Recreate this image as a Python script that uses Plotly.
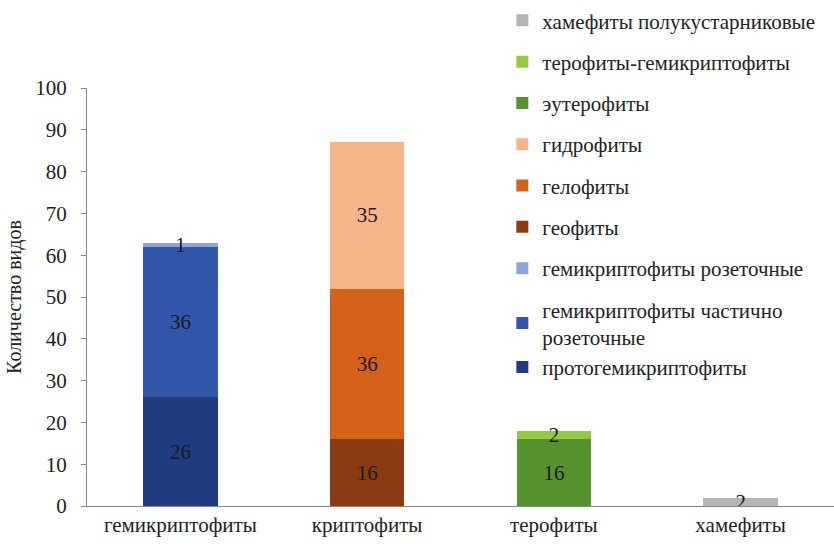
import plotly.graph_objects as go

categories = ["гемикриптофиты", "криптофиты", "терофиты", "хамефиты"]

# Each life-form subgroup belongs to one category; values are species counts
protohemicrypto = [26, None, None, None]
hemicrypto_partial = [36, None, None, None]
hemicrypto_rosette = [1, None, None, None]
geophytes = [None, 16, None, None]
helophytes = [None, 36, None, None]
hydrophytes = [None, 35, None, None]
euterophytes = [None, None, 16, None]
thero_hemicrypto = [None, None, 2, None]
chamae_semishrub = [None, None, None, 2]

# (legend name, values, colour, legend group)
series = [
    ("протогемикриптофиты", protohemicrypto, "#1f3c80", "hc"),
    ("гемикриптофиты частично<br>розеточные", hemicrypto_partial, "#3156aa", "hc"),
    ("гемикриптофиты розеточные", hemicrypto_rosette, "#8ea3d9", "g2"),
    ("геофиты", geophytes, "#8a3b12", "g3"),
    ("гелофиты", helophytes, "#d4621b", "g4"),
    ("гидрофиты", hydrophytes, "#f6b48b", "g5"),
    ("эутерофиты", euterophytes, "#56922d", "g6"),
    ("терофиты-гемикриптофиты", thero_hemicrypto, "#92ca40", "g7"),
    ("хамефиты полукустарниковые", chamae_semishrub, "#b5b5b5", "g8"),
]

FONT = "Liberation Serif"

fig = go.Figure()
n = len(series)
for i, (name, vals, color, grp) in enumerate(series):
    fig.add_trace(go.Bar(
        name=name,
        x=categories,
        y=vals,
        marker=dict(color=color, line=dict(width=0)),
        text=[str(v) if v is not None else "" for v in vals],
        textposition="inside",
        insidetextanchor="middle",
        textangle=0,
        textfont=dict(family=FONT, size=21, color="#1a1a1a"),
        legendgroup=grp,
        legendrank=n - i,
    ))

fig.update_layout(
    barmode="stack",
    bargap=0.6,
    width=834,
    height=553,
    margin=dict(l=87, r=0, t=88, b=47),
    paper_bgcolor="white",
    plot_bgcolor="white",
    font=dict(family=FONT, size=21, color="#222"),
    uniformtext=dict(minsize=21, mode="show"),
    legend=dict(
        traceorder="grouped",
        x=0.556, y=1.21, xanchor="left", yanchor="top",
        font=dict(family=FONT, size=21, color="#222"),
        tracegroupgap=11,
        bgcolor="rgba(255,255,255,0)",
        itemwidth=30,
        maxheight=550,
    ),
    xaxis=dict(
        showline=True, linecolor="#888", linewidth=1,
        ticks="", tickfont=dict(family=FONT, size=21),
        showgrid=False,
    ),
    yaxis=dict(
        range=[0, 100], dtick=10,
        showline=True, linecolor="#888", linewidth=1,
        ticks="outside", ticklen=5, tickcolor="#888",
        ticklabelstandoff=10,
        showgrid=False, zeroline=False,
        tickfont=dict(family=FONT, size=21),
        title=dict(text="Количество видов", font=dict(family=FONT, size=20), standoff=8),
    ),
)

fig.write_html("out.html")
